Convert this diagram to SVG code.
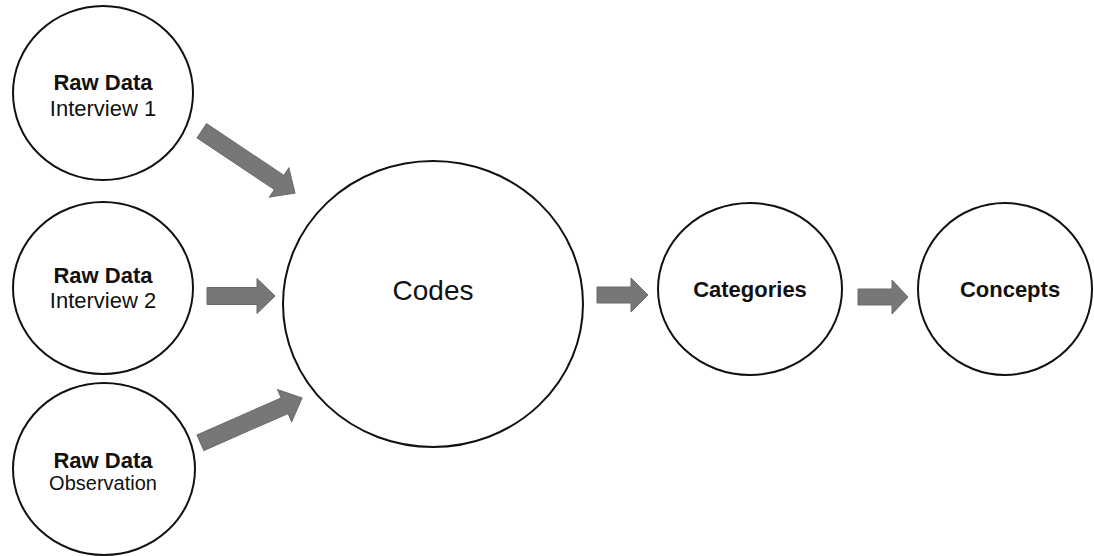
<svg xmlns="http://www.w3.org/2000/svg" width="1094" height="556" viewBox="0 0 1094 556">
<style>
.node{fill:#fff;stroke:#111;stroke-width:2}
.t{font-family:"Liberation Sans",Arial,sans-serif;fill:#111;text-anchor:middle}
.b{font-weight:bold;font-size:22px}
.r{font-size:22px}
.arrow{fill:#777;stroke:#6a6a6a;stroke-width:1}
</style>
<rect width="1094" height="556" fill="#fff"/>
<g id="connectors">
<path class="arrow" transform="translate(295,193) rotate(33.7)" d="M0,0 L-19,-17.5 L-19,-8.5 L-112,-8.5 L-112,8.5 L-19,8.5 L-19,17.5 Z"/>
<path class="arrow" transform="translate(275,296)" d="M0,0 L-18,-17.5 L-18,-8.5 L-68,-8.5 L-68,8.5 L-18,8.5 L-18,17.5 Z"/>
<path class="arrow" transform="translate(302,398) rotate(-23.8)" d="M0,0 L-19,-17.5 L-19,-8.5 L-111,-8.5 L-111,8.5 L-19,8.5 L-19,17.5 Z"/>
<path class="arrow" transform="translate(648,295)" d="M0,0 L-17,-17 L-17,-8 L-51,-8 L-51,8 L-17,8 L-17,17 Z"/>
<path class="arrow" transform="translate(908,297)" d="M0,0 L-16,-17 L-16,-8 L-50,-8 L-50,8 L-16,8 L-16,17 Z"/>
</g>
<g id="raw1">
<ellipse class="node" cx="103" cy="93" rx="90" ry="87"/>
<text class="t b" x="103" y="90">Raw Data</text>
<text class="t r" x="103" y="116">Interview 1</text>
</g>
<g id="raw2">
<ellipse class="node" cx="103" cy="288" rx="90" ry="86"/>
<text class="t b" x="103" y="283">Raw Data</text>
<text class="t r" x="103" y="308">Interview 2</text>
</g>
<g id="raw3">
<ellipse class="node" cx="104" cy="469" rx="91" ry="86"/>
<text class="t b" x="103" y="468">Raw Data</text>
<text class="t" style="font-size:20px" x="103" y="490">Observation</text>
</g>
<g id="codes">
<ellipse class="node" cx="433" cy="304" rx="150" ry="143"/>
<text class="t" style="font-size:28px" x="433" y="300">Codes</text>
</g>
<g id="categories">
<ellipse class="node" cx="750" cy="289" rx="92" ry="86"/>
<text class="t b" x="750" y="297">Categories</text>
</g>
<g id="concepts">
<ellipse class="node" cx="1005" cy="289" rx="87" ry="86"/>
<text class="t b" x="1010" y="297">Concepts</text>
</g>
</svg>
